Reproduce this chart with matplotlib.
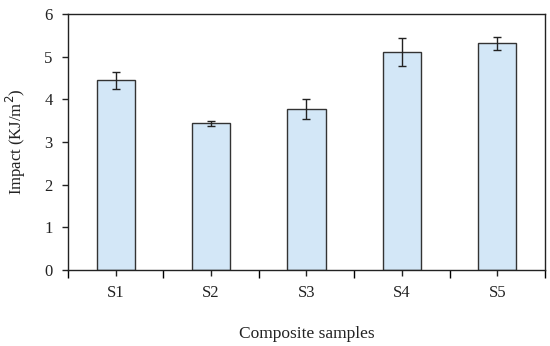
import matplotlib.pyplot as plt
import numpy as np

samples = ['S1', 'S2', 'S3', 'S4', 'S5']
impact = [4.45, 3.44, 3.77, 5.10, 5.31]
impact_err = [0.20, 0.06, 0.24, 0.33, 0.15]

plt.rcParams['font.family'] = ['Liberation Serif', 'DejaVu Serif']

fig = plt.figure(figsize=(5.5, 3.46), dpi=100)
ax = fig.add_axes([0.1236, 0.2197, 0.8673, 0.7398])

x = np.arange(len(samples))
ax.bar(x, impact, width=0.4, color='#d3e7f7', edgecolor='#333333', linewidth=1.0,
       yerr=impact_err, capsize=3, error_kw=dict(ecolor='#222222', elinewidth=1.0, capthick=1.0))

ax.set_xlim(-0.5, len(samples) - 0.5)
ax.set_ylim(0, 6)
ax.set_yticks(range(0, 7))
ax.set_xticks(x)
ax.set_xticklabels(samples)
ax.set_xticks(np.arange(-0.5, len(samples)), minor=True)
ax.tick_params(axis='x', which='major', length=4, width=1, labelsize=12, pad=7, colors='#222222')
ax.tick_params(axis='x', which='minor', length=6, width=1)
ax.tick_params(axis='y', length=4, width=1, labelsize=12, pad=7, colors='#222222')

for s in ax.spines.values():
    s.set_linewidth(1.0)
    s.set_color('#222222')

ax.set_ylabel('Impact (KJ/m$^2$)', fontsize=12, labelpad=12, color='#222222')
ax.set_xlabel('Composite samples', fontsize=12.5, labelpad=18, color='#222222')

fig.savefig('out.png', dpi=100)
